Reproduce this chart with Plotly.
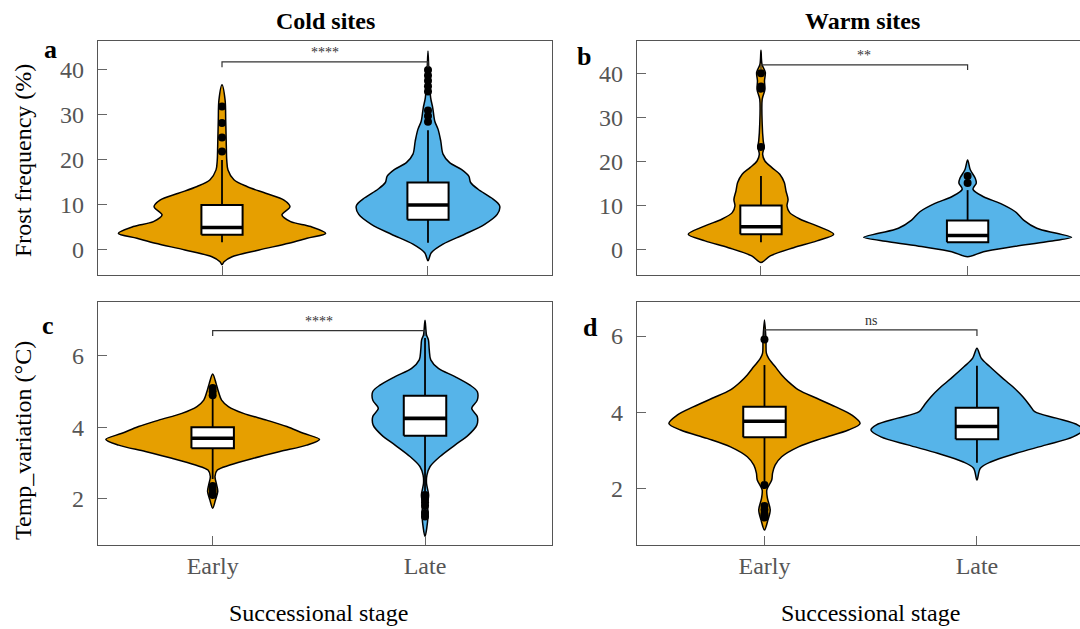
import plotly.graph_objects as go

STAGES = ["Early", "Late"]
COLORS = ["#E69F00", "#56B4E9"]
SERIF = "Liberation Serif, Times New Roman, serif"

# ---- violin outlines: value levels and half-widths (x units) ----
# a: frost frequency (%), cold sites
a_early_y = [36.7, 33.3, 28.9, 23.0, 20.0, 17.8, 15.6, 14.1, 12.6, 11.1, 9.6, 7.8, 6.3, 5.2, 3.7, 2.6, 1.5, 0.0, -1.5, -2.6, -3.3]
a_early_hw = [0, .015, .018, .021, .023, .029, .058, .121, .212, .301, .330, .291, .333, .431, .503, .413, .324, .180, .049, .010, 0]
a_late_y = [44.2, 38.9, 33.8, 31.6, 28.6, 26.8, 24.2, 21.3, 19.4, 17.9, 16.4, 15.0, 13.5, 11.6, 9.8, 7.9, 5.7, 3.5, 1.3, -0.6, -2.4]
a_late_hw = [0, .005, .013, .023, .033, .049, .062, .073, .105, .162, .198, .207, .243, .307, .348, .336, .275, .178, .073, .016, 0]
# b: frost frequency (%), warm sites
b_early_y = [45.2, 42.0, 40.2, 38.3, 36.3, 34.1, 28.4, 24.6, 23.3, 21.6, 20.1, 18.6, 17.1, 15.2, 13.3, 11.4, 9.9, 8.4, 6.9, 5.4, 3.5, 2.0, 0.45, -1.4, -2.9]
b_early_hw = [0, .005, .021, .017, .019, .006, .006, .011, .015, .008, .019, .053, .091, .113, .121, .131, .126, .139, .190, .271, .352, .271, .158, .045, 0]
b_late_y = [20.3, 18.1, 16.2, 15.1, 13.7, 12.0, 10.5, 8.6, 6.7, 4.85, 3.7, 2.8, 1.8, 0.7, -0.45, -1.6]
b_late_hw = [0, .013, .037, .042, .026, .077, .158, .231, .271, .335, .431, .503, .382, .223, .077, 0]
# c: temperature variation (°C), cold sites
c_early_y = [5.49, 5.23, 5.0, 4.76, 4.58, 4.39, 4.2, 4.02, 3.83, 3.66, 3.5, 3.32, 3.13, 2.94, 2.8, 2.62, 2.38, 2.2, 1.96, 1.73]
c_early_hw = [0, .016, .027, .042, .074, .145, .254, .349, .427, .503, .443, .317, .192, .081, .022, .011, .019, .024, .013, 0]
c_late_y = [7.0, 6.59, 6.45, 6.17, 5.89, 5.65, 5.42, 5.18, 5.0, 4.76, 4.53, 4.3, 4.06, 3.78, 3.5, 3.18, 2.9, 2.66, 2.43, 2.1, 1.87, 1.5, 0.94]
c_late_hw = [0, .007, .016, .020, .027, .063, .141, .212, .246, .246, .220, .246, .244, .204, .141, .071, .024, .009, .007, .017, .012, .014, 0]
# d: temperature variation (°C), warm sites
d_early_y = [6.42, 5.91, 5.55, 5.42, 5.2, 4.98, 4.8, 4.59, 4.37, 4.15, 3.93, 3.71, 3.54, 3.32, 3.1, 2.84, 2.62, 2.41, 2.23, 1.97, 1.75, 1.45, 1.18, 0.92]
d_early_hw = [0, .007, .009, .019, .050, .081, .113, .160, .246, .333, .411, .450, .395, .270, .160, .081, .050, .038, .034, .011, .014, .027, .016, 0]
d_late_y = [5.68, 5.42, 5.2, 4.93, 4.67, 4.41, 4.19, 4.02, 3.85, 3.67, 3.54, 3.36, 3.15, 2.93, 2.71, 2.54, 2.23]
d_late_hw = [0, .020, .060, .114, .169, .216, .248, .272, .373, .475, .499, .452, .326, .185, .067, .016, 0]

# ---- box statistics per stage [Early, Late] ----
a_lo, a_q1, a_med, a_q3, a_hi = [1.7, 1.6], [3.4, 6.7], [5.0, 10.0], [10.0, 15.0], [20.0, 26.6]
b_lo, b_q1, b_med, b_q3, b_hi = [1.7, 1.6], [3.5, 1.7], [5.2, 3.2], [10.0, 6.6], [16.7, 13.5]
c_lo, c_q1, c_med, c_q3, c_hi = [2.55, 2.2], [3.41, 3.76], [3.69, 4.25], [4.0, 4.88], [4.85, 6.5]
d_lo, d_q1, d_med, d_q3, d_hi = [2.2, 2.68], [3.35, 3.30], [3.77, 3.63], [4.15, 4.12], [5.24, 5.22]

# ---- outliers ----
a_out = [[21.9, 25.0, 28.2, 31.9], [28.5, 29.8, 31.0, 35.2, 36.4, 37.6, 38.8, 40.0]]
b_out = [[23.3, 36.5, 37.0, 40.0], [15.1, 16.7]]
c_out = [[2.1, 2.15, 2.25, 2.35, 4.9, 5.0, 5.1], [1.5, 1.6, 1.8, 1.9, 2.0, 2.1]]
d_out = [[1.25, 1.3, 1.35, 1.45, 1.55, 2.1, 5.91], []]

# ---- significance brackets ----
sig_labels = ["****", "**", "****", "ns"]
sig_height = [41.8, 41.9, 6.71, 6.16]
sig_tip = [40.6, 40.7, 6.56, 6.0]

BOX_W = 0.2

panels = [
    dict(ax="", prof=[(a_early_y, a_early_hw), (a_late_y, a_late_hw)],
         box=(a_lo, a_q1, a_med, a_q3, a_hi), out=a_out),
    dict(ax="2", prof=[(b_early_y, b_early_hw), (b_late_y, b_late_hw)],
         box=(b_lo, b_q1, b_med, b_q3, b_hi), out=b_out),
    dict(ax="3", prof=[(c_early_y, c_early_hw), (c_late_y, c_late_hw)],
         box=(c_lo, c_q1, c_med, c_q3, c_hi), out=c_out),
    dict(ax="4", prof=[(d_early_y, d_early_hw), (d_late_y, d_late_hw)],
         box=(d_lo, d_q1, d_med, d_q3, d_hi), out=d_out),
]

fig = go.Figure()

for k, p in enumerate(panels):
    xa, ya = "x" + p["ax"], "y" + p["ax"]
    lo, q1, med, q3, hi = p["box"]
    for i, (ys, hw) in enumerate(p["prof"]):
        left_x = [i - w for w in hw]
        right_x = [i + w for w in hw[::-1]][1:]
        vx = left_x + right_x
        vy = list(ys) + list(ys[::-1])[1:]
        fig.add_trace(go.Scatter(
            x=vx, y=vy, mode="lines", fill="toself", fillcolor=COLORS[i],
            line=dict(color="black", width=1.5, shape="spline", smoothing=0.9),
            xaxis=xa, yaxis=ya, hoverinfo="skip", showlegend=False))
        # whiskers
        fig.add_trace(go.Scatter(
            x=[i, i, None, i, i], y=[lo[i], q1[i], None, q3[i], hi[i]],
            mode="lines", line=dict(color="black", width=1.8),
            xaxis=xa, yaxis=ya, hoverinfo="skip", showlegend=False))
        # box body
        h = BOX_W / 2
        fig.add_trace(go.Scatter(
            x=[i - h, i + h, i + h, i - h, i - h],
            y=[q1[i], q1[i], q3[i], q3[i], q1[i]],
            mode="lines", fill="toself", fillcolor="white",
            line=dict(color="black", width=2),
            xaxis=xa, yaxis=ya, hoverinfo="skip", showlegend=False))
        # median
        fig.add_trace(go.Scatter(
            x=[i - h, i + h], y=[med[i], med[i]], mode="lines",
            line=dict(color="black", width=3.6),
            xaxis=xa, yaxis=ya, hoverinfo="skip", showlegend=False))
        # outliers
        if p["out"][i]:
            fig.add_trace(go.Scatter(
                x=[i] * len(p["out"][i]), y=p["out"][i], mode="markers",
                marker=dict(color="black", size=8),
                xaxis=xa, yaxis=ya, hoverinfo="skip", showlegend=False))
    # bracket
    fig.add_trace(go.Scatter(
        x=[0, 0, 1, 1], y=[sig_tip[k], sig_height[k], sig_height[k], sig_tip[k]],
        mode="lines", line=dict(color="#333333", width=1.2),
        xaxis=xa, yaxis=ya, hoverinfo="skip", showlegend=False))

W, H = 1080, 629
def px_x(v):
    return v / W
def px_y(v):
    return 1 - v / H

axis_common = dict(showline=True, mirror=True, linecolor="#555555", linewidth=1.3,
                   ticks="inside", ticklen=9, tickwidth=1.2, tickcolor="#666666",
                   showgrid=False, zeroline=False,
                   tickfont=dict(family=SERIF, size=24, color="#555555"))

x_dom_left = [px_x(98), px_x(552)]
x_dom_right = [px_x(637), 1.0]
y_dom_top = [px_y(275), px_y(41)]
y_dom_bot = [px_y(545), px_y(302)]

xr = {"": [-0.602, 1.602], "2": [-0.600, 1.544], "3": [-0.540, 1.598], "4": [-0.600, 1.485]}
yr = {"": [-5.56, 46.44], "2": [-5.74, 47.3], "3": [0.70, 7.51], "4": [0.53, 6.89]}
xdom = {"": x_dom_left, "2": x_dom_right, "3": x_dom_left, "4": x_dom_right}
ydom = {"": y_dom_top, "2": y_dom_top, "3": y_dom_bot, "4": y_dom_bot}
yticks = {"": [0, 10, 20, 30, 40], "2": [0, 10, 20, 30, 40], "3": [2, 4, 6], "4": [2, 4, 6]}

layout_axes = {}
for s in ["", "2", "3", "4"]:
    layout_axes["xaxis" + s] = dict(axis_common, domain=xdom[s], range=xr[s],
                                    anchor="y" + s, tickvals=[0, 1], ticktext=STAGES,
                                    showticklabels=s in ("3", "4"), ticklabelstandoff=-1)
    layout_axes["yaxis" + s] = dict(axis_common, domain=ydom[s], range=yr[s],
                                    anchor="x" + s, tickvals=yticks[s], ticklabelstandoff=8)

ann = []
def text(x, y, s, size=24, bold=False, angle=0, color="black", xanchor="center", yanchor="middle"):
    ann.append(dict(x=px_x(x), y=px_y(y), xref="paper", yref="paper", text=f"<b>{s}</b>" if bold else s,
                    showarrow=False, textangle=angle, xanchor=xanchor, yanchor=yanchor,
                    font=dict(family=SERIF, size=size, color=color)))

text(325, 21, "Cold sites", bold=True)
text(862, 21, "Warm sites", bold=True)
text(50, 50, "a", size=26, bold=True)
text(584, 57, "b", size=26, bold=True)
text(48, 325, "c", size=26, bold=True)
text(590, 327, "d", size=26, bold=True)
text(23, 161, "Frost frequency (%)", angle=-90)
text(23, 441, "Temp_variation (°C)", angle=-90)
text(318.6, 613, "Successional stage")
text(870, 613, "Successional stage")

for k, s in enumerate(["", "2", "3", "4"]):
    ann.append(dict(x=0.5, y=sig_height[k], xref="x" + s, yref="y" + s, text=sig_labels[k],
                    showarrow=False, yanchor="bottom", yshift=0,
                    font=dict(family=SERIF, size=14, color="#333333")))

fig.update_layout(width=W, height=H, margin=dict(l=0, r=0, t=0, b=0),
                  paper_bgcolor="white", plot_bgcolor="white",
                  showlegend=False, annotations=ann, **layout_axes)

fig.write_html("out.html")
